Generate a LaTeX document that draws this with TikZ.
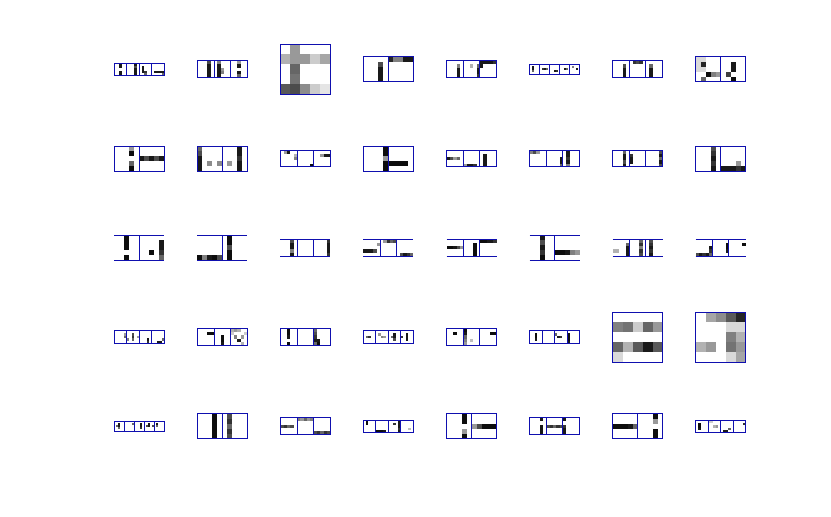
\documentclass[tikz,border=0pt]{standalone}
\definecolor{frame}{RGB}{15,15,175}
\tikzset{panelframe/.style={draw=frame,line width=1pt}}
\newcommand\panelbox[5]{%
  \pgfmathsetmacro\ph{50/#3}%
  \pgfmathsetmacro\px{114.3+83.05*(#1-1)}%
  \pgfmathsetmacro\py{69.3+89.25*(#2-1)-\ph/2}%
  \pgfmathsetmacro\cs{10/#3}%
  \pgfmathtruncatemacro\nm{#3-1}%
  \pgfmathtruncatemacro\nw{5*#3}%
  \begin{scope}[shift={(\px,\py)},x=\cs pt,y=-\cs pt]
    \foreach \i/\j/\g in {#4} {\fill[black!\g] (\i,\j) rectangle ++(1,1);}
    \ifnum#5=0
      \draw[panelframe] (0,0) rectangle (\nw,5);
    \else
      \draw[panelframe] (0,0) -- (\nw,0);
      \draw[panelframe] (0,5) -- (\nw,5);
    \fi
    \ifnum#3>1
      \foreach \k in {1,...,\nm} {\draw[panelframe] (5*\k,0) -- (5*\k,5);}
    \fi
  \end{scope}%
}
\begin{document}
\begin{tikzpicture}[x=1pt,y=-1pt]
\useasboundingbox (0,0) rectangle (831,517);
% row 1
\panelbox{1}{1}{4}{2/0/90,2/1/90,2/3/90,2/4/90,8/0/90,8/1/70,8/2/90,8/3/90,8/4/90,11/1/90,11/2/90,11/3/90,12/3/80,12/4/60,16/3/90,17/3/90,18/3/90,19/3/90,19/4/60}{0}
\panelbox{2}{1}{3}{3/0/70,3/1/90,3/2/90,3/3/90,3/4/90,6/0/50,6/1/90,6/2/90,6/3/90,6/4/90,7/2/40,7/3/50,12/0/40,12/1/90,12/3/90,12/4/60}{0}
\panelbox{3}{1}{1}{1/0/40,0/1/30,1/1/40,2/1/40,3/1/20,4/1/35,1/2/60,1/3/55,0/4/65,1/4/70,2/4/45,3/4/20,4/4/10}{0}
\panelbox{4}{1}{2}{3/1/70,3/2/90,3/3/90,3/4/90,5/0/85,6/0/50,7/0/50,8/0/90,9/0/90}{0}
\panelbox{5}{1}{3}{3/1/50,3/2/90,3/3/90,3/4/90,7/1/30,9/1/60,9/2/90,9/3/90,9/4/80,10/0/90,11/0/90,12/0/90,13/0/90,14/0/80,10/1/90}{0}
\panelbox{6}{1}{5}{1/1/90,1/2/90,1/3/60,6/2/80,7/2/90,8/2/60,12/3/90,13/3/80,17/2/90,18/2/60,21/1/50,23/2/90}{0}
\panelbox{7}{1}{3}{3/1/70,3/2/90,3/3/90,3/4/90,6/0/80,7/0/70,8/0/80,11/1/60,11/2/90,11/3/90,11/4/90}{0}
\panelbox{8}{1}{2}{0/0/15,1/0/15,0/1/15,0/2/15,1/2/15,1/1/85,2/3/95,3/3/50,4/3/40,1/4/60,7/1/90,7/2/90,6/3/75,7/4/95}{0}
% row 2
\panelbox{1}{2}{2}{3/0/40,3/1/95,3/3/60,3/4/95,5/2/90,6/2/70,7/2/90,8/2/70,9/2/90}{0}
\panelbox{2}{2}{2}{0/0/60,0/1/70,0/2/90,0/3/90,0/4/90,2/3/45,4/3/45,6/3/40,8/0/90,8/1/90,8/2/80,8/3/90,8/4/90}{0}
\panelbox{3}{2}{3}{1/0/40,2/0/90,4/1/30,4/2/50,9/4/95,12/1/40,13/1/90,14/1/90}{0}
\panelbox{4}{2}{2}{4/0/95,4/1/95,4/2/40,4/3/95,4/4/95,5/3/95,6/3/95,7/3/95,8/3/95}{0}
\panelbox{5}{2}{3}{0/2/90,1/2/70,2/2/40,3/2/60,5/4/40,6/4/90,7/4/90,8/4/80,11/1/90,11/2/90,11/3/90,11/4/90}{0}
\panelbox{6}{2}{3}{0/0/50,1/0/70,2/0/40,9/2/90,9/3/90,9/4/60,11/0/90,11/1/90,11/2/80,11/3/90,11/4/50}{0}
\panelbox{7}{2}{3}{3/0/60,3/1/90,3/2/90,3/3/70,3/4/90,5/1/80,5/2/90,5/3/90,14/0/70,14/1/90,14/2/60,14/3/90,14/4/70}{0}
\panelbox{8}{2}{2}{3/0/70,3/1/80,3/2/90,3/3/80,3/4/90,5/4/90,6/4/90,7/4/90,8/3/40,8/4/80,9/4/90}{0}
% row 3
\panelbox{1}{3}{2}{2/0/95,2/1/95,2/2/95,2/4/95,7/3/95,9/1/90,9/2/90,9/3/80,9/4/60}{1}
\panelbox{2}{3}{2}{0/4/95,1/4/50,2/4/90,3/4/95,4/4/70,6/0/95,6/1/95,6/2/70,6/3/95,6/4/95}{1}
\panelbox{3}{3}{3}{3/0/70,3/1/90,3/2/90,3/3/50,3/4/90,14/0/80,14/1/90,14/2/90,14/3/90,14/4/80}{1}
\panelbox{4}{3}{3}{0/3/90,1/3/90,2/3/90,3/3/70,4/1/40,6/0/40,7/0/80,8/0/60,9/0/70,11/4/70,12/4/90,13/4/80,14/4/60}{1}
\panelbox{5}{3}{3}{0/2/95,1/2/95,2/2/90,3/2/70,4/2/40,8/1/95,8/2/95,8/3/95,8/4/95,10/0/95,11/0/95,12/0/90,13/0/90,14/0/80}{1}
\panelbox{6}{3}{2}{2/0/90,2/1/70,2/2/90,2/3/80,2/4/95,5/3/95,6/3/95,7/3/90,8/3/50,9/3/40}{1}
\panelbox{7}{3}{3}{0/3/30,1/3/30,4/1/60,4/2/90,4/3/90,4/4/90,8/0/60,8/1/80,8/2/50,8/3/80,8/4/70,11/0/70,11/1/80,11/2/90,11/3/80,11/4/90}{1}
\panelbox{8}{3}{3}{0/4/70,1/4/90,2/4/80,3/4/90,4/4/60,4/2/90,4/3/80,9/1/95,9/2/95,9/3/90,14/1/95}{1}
% row 4
\panelbox{1}{4}{4}{4/1/40,4/2/60,5/3/50,7/1/70,7/2/80,7/3/60,9/2/40,13/3/90,13/4/80,17/4/90,18/4/90,19/3/60}{0}
\panelbox{2}{4}{3}{3/1/95,4/1/95,7/2/95,7/3/95,7/4/90,10/0/30,11/0/40,12/0/30,10/1/20,11/2/50,12/3/90,13/2/40,14/1/20,13/4/30}{0}
\panelbox{3}{4}{3}{2/0/95,2/1/95,2/2/90,2/4/95,10/0/60,10/1/70,10/2/80,10/3/90,10/4/60,11/3/90,11/4/95}{0}
\panelbox{4}{4}{4}{1/2/60,2/2/80,6/1/40,7/2/50,8/2/40,11/2/60,12/1/90,12/2/90,12/3/70,15/2/80,17/1/90,17/2/90,17/3/90}{0}
\panelbox{5}{4}{3}{2/1/95,5/0/95,5/1/90,5/2/60,5/3/50,5/4/40,7/3/25,13/1/95,14/1/95}{0}
\panelbox{6}{4}{4}{2/1/95,2/2/95,2/3/90,10/1/60,11/2/90,12/2/80,15/1/95,15/2/95,15/3/95,15/4/90}{0}
\panelbox{7}{4}{1}{0/1/50,1/1/55,2/1/20,3/1/60,4/1/40,0/3/60,1/3/30,2/3/65,3/3/90,4/3/65,0/4/15}{0}
\panelbox{8}{4}{1}{1/0/35,2/0/45,3/0/65,4/0/85,3/1/15,4/1/15,3/2/50,4/2/30,0/3/30,1/3/40,3/3/55,4/3/40,3/4/15,4/4/35}{0}
% row 5
\panelbox{1}{5}{5}{2/1/90,2/2/90,2/3/60,1/2/60,9/1/60,13/1/90,13/2/90,13/3/80,16/2/70,17/1/90,17/2/90,19/2/70,21/1/90,21/2/60}{0}
\panelbox{2}{5}{2}{3/0/95,3/1/95,3/2/95,3/3/95,3/4/95,6/0/70,6/1/80,6/2/60,6/3/80,6/4/70}{0}
\panelbox{3}{5}{3}{0/2/70,1/2/80,2/2/60,3/2/70,5/0/50,6/0/40,7/0/60,8/0/40,9/0/50,10/4/70,11/4/80,12/4/60,13/4/80,14/4/70}{0}
\panelbox{4}{5}{4}{1/0/95,1/1/95,5/4/95,6/4/95,7/4/95,8/4/90,12/1/80,14/0/90,14/1/90,14/2/90,14/3/80,14/4/90,18/3/25}{0}
\panelbox{5}{5}{2}{3/0/95,3/1/95,3/3/40,3/4/95,5/2/40,6/2/70,7/2/95,8/2/95,9/2/95}{0}
\panelbox{6}{5}{3}{3/0/90,3/2/90,3/3/90,3/4/90,5/2/70,6/2/80,7/2/60,8/2/80,9/2/70,10/0/90,10/2/80,10/3/90,10/4/90}{0}
\panelbox{7}{5}{2}{0/2/95,1/2/95,2/2/95,3/2/90,4/2/60,8/0/95,8/1/40,8/3/95,8/4/95}{0}
\panelbox{8}{5}{4}{1/1/95,1/2/95,1/3/90,5/0/20,6/0/20,7/2/30,8/2/40,11/4/90,12/4/90,13/3/60,19/1/80}{0}
\end{tikzpicture}
\end{document}
